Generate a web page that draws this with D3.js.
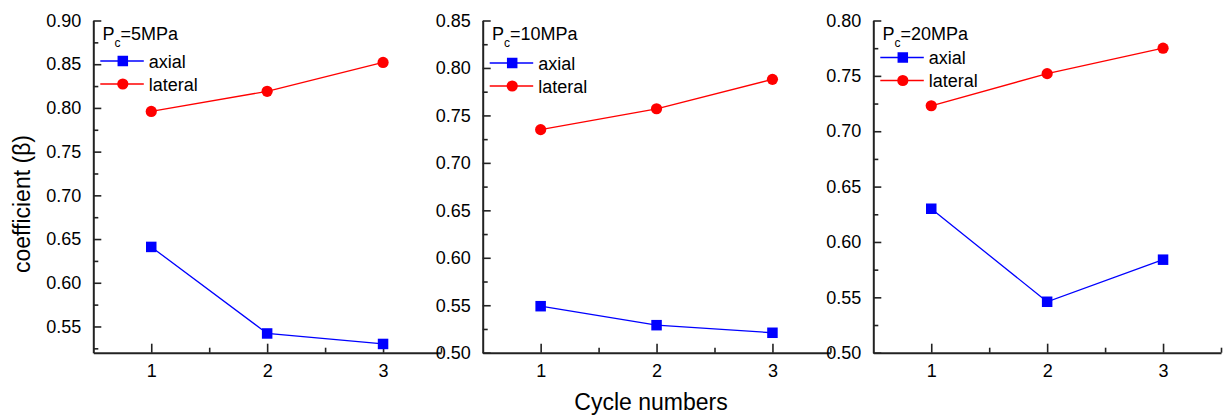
<!DOCTYPE html>
<html>
<head>
<meta charset="utf-8">
<script src="https://cdn.jsdelivr.net/npm/d3@7"></script>
<style>
  body { margin: 0; background: #fff; }
  text { font-family: "Liberation Sans", Arial, sans-serif; fill: #000; }
</style>
</head>
<body>
<script>
// data
const cycles = [1, 2, 3]
const pressures = ["5MPa", "10MPa", "20MPa"]

const axial5 = [0.641, 0.542, 0.530]
const lateral5 = [0.796, 0.819, 0.852]
const axial10 = [0.549, 0.529, 0.521]
const lateral10 = [0.735, 0.757, 0.788]
const axial20 = [0.630, 0.546, 0.584]
const lateral20 = [0.723, 0.752, 0.775]

const yDomains = [[0.52, 0.90], [0.50, 0.85], [0.50, 0.80]]
const yTicks5 = [0.55, 0.60, 0.65, 0.70, 0.75, 0.80, 0.85, 0.90]
const yTicks10 = [0.50, 0.55, 0.60, 0.65, 0.70, 0.75, 0.80, 0.85]
const yTicks20 = [0.50, 0.55, 0.60, 0.65, 0.70, 0.75, 0.80]
const xTicks = [1, 2, 3]
const xMinor = [1.5, 2.5, 3.5]

const panels = [
  { p: pressures[0], axial: axial5, lateral: lateral5, dom: yDomains[0], ticks: yTicks5, left: 93.3, legY: 61 },
  { p: pressures[1], axial: axial10, lateral: lateral10, dom: yDomains[1], ticks: yTicks10, left: 482.7, legY: 63 },
  { p: pressures[2], axial: axial20, lateral: lateral20, dom: yDomains[2], ticks: yTicks20, left: 873.3, legY: 57.5 }
]

let width = 1223
let height = 416
let plotTop = 20.5, plotBottom = 352.7, panelW = 347.7
const axisColor = "#222"

const svg = d3.select("body").append("svg")
  .attr("width", width)
  .attr("height", height)

panels.forEach(pn => {
  const x = d3.scaleLinear().domain([0.5, 3.5]).range([pn.left, pn.left + panelW])
  const y = d3.scaleLinear().domain(pn.dom).range([plotBottom, plotTop])

  // minor ticks first (odd multiples of 0.025)
  const minorY = d3.range(Math.ceil(pn.dom[0] * 40), Math.floor(pn.dom[1] * 40) + 1)
    .filter(k => k % 2 === 1)
    .map(k => k / 40)
  svg.append("g")
    .attr("transform", `translate(${pn.left},0)`)
    .call(d3.axisLeft(y).tickValues(minorY).tickSize(-5).tickFormat(""))
    .call(g => g.select(".domain").remove())
    .call(g => g.selectAll("line").attr("stroke", axisColor).attr("stroke-width", 1.6))

  svg.append("g")
    .attr("transform", `translate(0,${plotBottom})`)
    .call(d3.axisBottom(x).tickValues(xMinor).tickSize(-5).tickFormat(""))
    .call(g => g.select(".domain").remove())
    .call(g => g.selectAll("line").attr("stroke", axisColor).attr("stroke-width", 1.6))

  // major axes
  svg.append("g")
    .attr("transform", `translate(${pn.left},0)`)
    .call(d3.axisLeft(y).tickValues(pn.ticks).tickSizeInner(-8).tickSizeOuter(0).tickPadding(12)
      .tickFormat(d3.format(".2f")))
    .call(g => g.select(".domain").attr("stroke", axisColor).attr("stroke-width", 2))
    .call(g => g.selectAll("line").attr("stroke", axisColor).attr("stroke-width", 1.6))
    .call(g => g.selectAll("text").attr("font-size", 18).attr("font-family", null))

  svg.append("g")
    .attr("transform", `translate(0,${plotBottom})`)
    .call(d3.axisBottom(x).tickValues(xTicks).tickSizeInner(-9).tickSizeOuter(0).tickPadding(12)
      .tickFormat(d3.format("d")))
    .call(g => g.select(".domain").attr("stroke", axisColor).attr("stroke-width", 2))
    .call(g => g.selectAll("line").attr("stroke", axisColor).attr("stroke-width", 1.6))
    .call(g => g.selectAll("text").attr("font-size", 18).attr("font-family", null))

  const line = d3.line().x((d, i) => x(cycles[i])).y(d => y(d))

  // axial series
  svg.append("path").datum(pn.axial)
    .attr("d", line).attr("fill", "none").attr("stroke", "#0000ff").attr("stroke-width", 1.3)
  svg.append("g").selectAll("rect").data(pn.axial).join("rect")
    .attr("x", (d, i) => x(cycles[i]) - 5.25)
    .attr("y", d => y(d) - 5.25)
    .attr("width", 10.5).attr("height", 10.5)
    .attr("fill", "#0000ff")

  // lateral series
  svg.append("path").datum(pn.lateral)
    .attr("d", line).attr("fill", "none").attr("stroke", "#ff0000").attr("stroke-width", 1.3)
  svg.append("g").selectAll("circle").data(pn.lateral).join("circle")
    .attr("cx", (d, i) => x(cycles[i]))
    .attr("cy", d => y(d))
    .attr("r", 5.6)
    .attr("fill", "#ff0000")

  // legend
  const lg = svg.append("g").attr("transform", `translate(${pn.left},0)`)
  const title = lg.append("text").attr("x", 9.2).attr("y", 40).attr("font-size", 18)
  title.append("tspan").text("P")
  title.append("tspan").attr("font-size", 12).attr("dy", 7).text("c")
  title.append("tspan").attr("dy", -7).text("=" + pn.p)

  const items = [
    { name: "axial", color: "#0000ff", shape: "square" },
    { name: "lateral", color: "#ff0000", shape: "circle" }
  ]
  items.forEach((it, k) => {
    const cy = pn.legY + k * 23
    lg.append("line").attr("x1", 7).attr("x2", 50.5).attr("y1", cy).attr("y2", cy)
      .attr("stroke", it.color).attr("stroke-width", 1.3)
    if (it.shape === "square") {
      lg.append("rect").attr("x", 29.5 - 5.25).attr("y", cy - 5.25).attr("width", 10.5).attr("height", 10.5)
        .attr("fill", it.color)
    } else {
      lg.append("circle").attr("cx", 29.5).attr("cy", cy).attr("r", 5.6).attr("fill", it.color)
    }
    lg.append("text").attr("x", 55.5).attr("y", cy + 6.5).attr("font-size", 18).text(it.name)
  })
})

// axis titles
svg.append("text")
  .attr("transform", "translate(30,204) rotate(-90)")
  .attr("text-anchor", "middle")
  .attr("font-size", 23)
  .text("coefficient (β)")

svg.append("text")
  .attr("x", 651)
  .attr("y", 410)
  .attr("text-anchor", "middle")
  .attr("font-size", 23)
  .text("Cycle numbers")
</script>
</body>
</html>
